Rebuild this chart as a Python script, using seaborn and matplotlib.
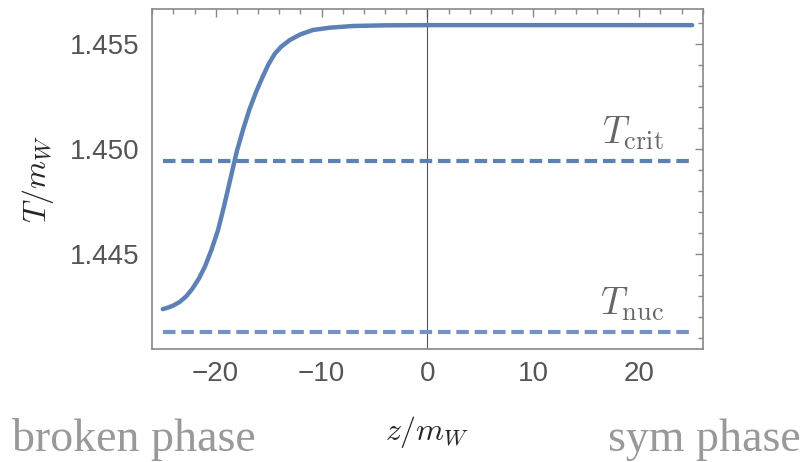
import numpy as np
import pandas as pd
import matplotlib
matplotlib.use("Agg")
import matplotlib.pyplot as plt
import seaborn as sns
from matplotlib.ticker import MultipleLocator, FuncFormatter

# wall profile T(z)/m_W
z_vals = [-25.0, -24.5, -24.0, -23.4, -22.8, -22.2, -21.6, -21.0, -20.4, -19.8,
          -19.2, -18.6, -18.0, -17.4, -16.8, -16.2, -15.6, -15.0, -14.4, -13.8,
          -13.0, -12.0, -10.8, -9.2, -7.0, -4.0, 0.0, 10.0, 25.0]
T_vals = [1.44238, 1.44245, 1.44255, 1.44272, 1.44298, 1.44335, 1.44382, 1.44442,
          1.44520, 1.44610, 1.44730, 1.44860, 1.44990, 1.45095, 1.45190, 1.45270,
          1.45340, 1.45405, 1.45455, 1.45488, 1.45519, 1.45546, 1.45567, 1.45578,
          1.45586, 1.45589, 1.45590, 1.45590, 1.45590]
T_crit = 1.44943
T_nuc = 1.44129

blue = "#5e81b5"
blue_light = "#7592c3"
grey = "#666666"

df = pd.DataFrame({"z": z_vals, "T": T_vals})

sns.set_style("white")
plt.rcParams["mathtext.fontset"] = "cm"
plt.rcParams["font.family"] = ["Liberation Sans", "DejaVu Sans"]

fig = plt.figure(figsize=(8.05, 4.62), dpi=100)
ax = fig.add_axes([0.189, 0.2446, 0.684, 0.736])

ax.axvline(0, color="#555555", lw=0.8, zorder=1)
ax.axhline(T_crit, xmin=0.0192, xmax=0.9808, color=blue, lw=3, dashes=(3, 1.4))
ax.axhline(T_nuc, xmin=0.0192, xmax=0.9808, color=blue_light, lw=3, dashes=(3, 1.4))
sns.lineplot(data=df, x="z", y="T", ax=ax, color=blue, lw=3.2, zorder=3,
             solid_joinstyle="round", solid_capstyle="round")

ax.set_xlim(-26, 26)
ax.set_ylim(1.44048, 1.45667)

ax.xaxis.set_major_locator(MultipleLocator(10))
ax.xaxis.set_minor_locator(MultipleLocator(2))
ax.yaxis.set_major_locator(MultipleLocator(0.005))
ax.yaxis.set_minor_locator(MultipleLocator(0.001))
ax.tick_params(which="both", direction="in", top=True, right=True,
               color="#888888", width=1)
ax.tick_params(which="major", length=6, labelsize=20, labelcolor="#555555", pad=9)
ax.tick_params(which="minor", length=3.5)
ax.xaxis.set_major_formatter(FuncFormatter(
    lambda v, p: f"{v:.0f}".replace("-", "\u2212")))
ax.yaxis.set_major_formatter(FuncFormatter(lambda v, p: f"{v:.3f}"))
for s in ax.spines.values():
    s.set_color("#888888")
    s.set_linewidth(1.2)

ax.set_xlabel(r"$z/m_W$", fontsize=23, labelpad=19)
ax.set_ylabel(r"$T/m_W$", fontsize=23, labelpad=10)

ax.text(22.3, 1.44985, r"$T_{\rm crit}$", fontsize=27, color=grey, ha="right",
        va="bottom")
ax.text(22.3, 1.44170, r"$T_{\rm nuc}$", fontsize=27, color=grey, ha="right",
        va="bottom")

fig.text(0.015, 0.003, "broken phase", fontsize=33, color="#999999",
         family=["Liberation Serif", "DejaVu Serif"], ha="left", va="bottom")
fig.text(0.995, 0.003, "sym phase", fontsize=33, color="#999999",
         family=["Liberation Serif", "DejaVu Serif"], ha="right", va="bottom")

fig.savefig("out.png", dpi=100)
